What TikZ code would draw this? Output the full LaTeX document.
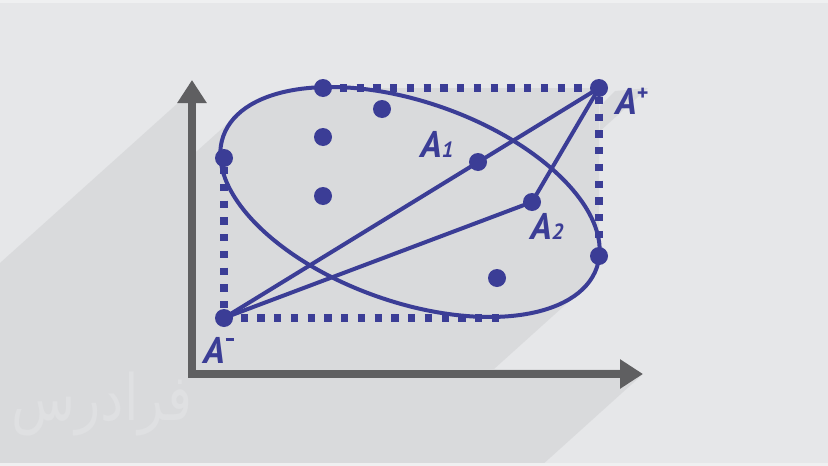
\documentclass[tikz,border=0pt]{standalone}
\usepackage{fontspec}
\usetikzlibrary{arrows.meta}
\newfontfamily\labelfont{PT Sans}
\newfontfamily\arabicfont[Script=Arabic]{DejaVu Sans}
\TeXXeTstate=1
\definecolor{bgcol}{HTML}{E6E7E9}
\definecolor{stripcol}{HTML}{EFF0F1}
\definecolor{shadowcol}{HTML}{D9DADC}
\definecolor{markcol}{HTML}{DFE0E2}
\definecolor{ptblue}{HTML}{3B3D96}
\definecolor{axiscol}{HTML}{5F5F61}
\newcommand\lsub[1]{{\fontsize{22}{22}\selectfont #1}}
\newcommand\lsup[2]{\raisebox{#1}{\fontsize{22}{22}\selectfont #2}}
\begin{document}
\begin{tikzpicture}[x=1pt,y=-1pt,
    axisline/.style={draw=axiscol,line width=8pt,line join=miter,
        {Triangle[length=23pt,width=28pt]}-{Triangle[length=23pt,width=28pt]}},
    curve/.style={draw=ptblue,line width=4pt},
    edge/.style={draw=ptblue,line width=4pt},
    boxline/.style={draw=ptblue,line width=8pt,dash pattern=on 7.25pt off 9.5pt},
    point/.style={fill=ptblue},
    lbl/.style={text=ptblue,inner sep=0pt,anchor=base west,
        font=\labelfont\bfseries\itshape\fontsize{37}{37}\selectfont}]
    \useasboundingbox (0,0) rectangle (828,466);
    \fill[bgcol] (0,0) rectangle (828,466);

    % points
    \coordinate (C) at (410,202);
    \coordinate (Am) at (224,318);
    \coordinate (Ap) at (599,88);
    \coordinate (A1) at (478,162);
    \coordinate (A2) at (532,202);
    \coordinate (Pt) at (323,88);
    \coordinate (Pl) at (224,158);
    \coordinate (Pr) at (599,256);
    \coordinate (Pb) at (500,318);
    \coordinate (Q1) at (382,109);
    \coordinate (Q2) at (323,137);
    \coordinate (Q3) at (323,196);
    \coordinate (Q4) at (497,278);
    \coordinate (O) at (192,374);
    \coordinate (Y) at (192,80);
    \coordinate (X) at (643,374);
    % tangent points of the long shadow
    \coordinate (T1) at (238.8,113.5);
    \coordinate (T2) at (581.2,290.5);

    % long shadow
    \fill[shadowcol] (0,263) -- (178,103) -- (Y) -- (205,103) -- (196,103) -- (196,152)
        -- (T1) -- (T2) -- (494,369) -- (620,369) -- (620,360) -- (X) -- (541,466)
        -- (0,466) -- cycle;
    \fill[shadowcol] (615,91) -- (648,88) -- (600,131) -- (600,106) -- cycle;
    \fill[shadowcol,rotate around={-19.4:(C)}] (C) ellipse [x radius=198,y radius=100];
    \fill[shadowcol] (Pl) -- (Am) -- (Pb) -- (C) -- cycle;
    \fill[shadowcol] (Pt) -- (Ap) -- (Pr) -- (C) -- cycle;

    \node[text=markcol,inner sep=0pt,xscale=0.82,font=\arabicfont\fontsize{64}{64}\selectfont]
        (mark) at (102,404) {\beginR فرادرس\endR};

    % axes
    \draw[axisline] (Y) -- (O) -- (X);

    % box
    \draw[boxline,dash phase=7.75pt] (Pl) -- (Am) -- (Pb);
    \draw[boxline] (Pt) -- (Ap) -- (Pr);

    \draw[curve,rotate around={-19.4:(C)}] (C) ellipse [x radius=198,y radius=100];

    \draw[edge] (Am) -- (Ap);
    \draw[edge] (Am) -- (A2) -- (Ap);

    \foreach \p in {Pt,Pl,Pr,Q1,Q2,Q3,Q4}
        \fill[point] (\p) circle (9);
    \fill[point] (A1) circle (9);
    \fill[point] (A2) circle (9);
    \fill[point] (Ap) circle (9);
    \fill[point] (Am) circle (9);

    \node[lbl] (lA1) at (420,157) {A\lsub{1}};
    \node[lbl] (lA2) at (530,239) {A\lsub{2}};
    \node[lbl] (lAp) at (615,114) {A\lsup{14pt}{+}};
    \node[lbl] (lAm) at (203,363) {A\hspace{1pt}\raisebox{22pt}{\rule{8pt}{3pt}}};

    \fill[stripcol] (0,0) rectangle (828,3);
    \fill[stripcol] (0,463) rectangle (828,466);
\end{tikzpicture}
\end{document}
